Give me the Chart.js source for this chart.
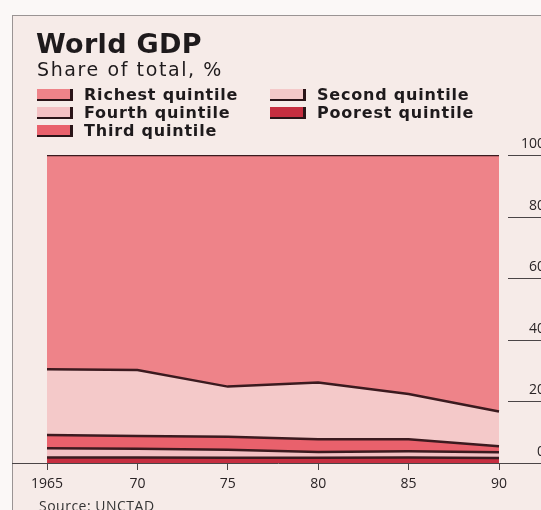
<!DOCTYPE html>
<html>
<head>
<meta charset="utf-8">
<script src="https://cdn.jsdelivr.net/npm/chart.js@4"></script>
<style>
  html, body { margin: 0; padding: 0; width: 541px; height: 510px; overflow: hidden; background: #fbf8f7; }
  #frame { position: absolute; left: 12px; top: 15px; width: 540px; height: 500px;
           border-left: 1px solid #9a9494; border-top: 1px solid #9a9494; background: #f6ebe8; }
  #chartWrap { position: absolute; left: 0; top: 0; width: 545px; height: 510px; }
  .txt { position: absolute; color: #1e1a1c; white-space: nowrap; line-height: 1; }
  #title { left: 36px; top: 30px; font-family: "DejaVu Sans", sans-serif; font-size: 27px; font-weight: 700; letter-spacing: 0.3px; }
  #subtitle { left: 37px; top: 60px; font-family: "DejaVu Sans", sans-serif; font-size: 19px; letter-spacing: 1.6px; }
  #source { left: 39px; top: 499px; font-family: "Open Sans", sans-serif; font-size: 14px; color: #333; letter-spacing: 0.5px; }
  .legItem { position: absolute; font-family: "DejaVu Sans", sans-serif; font-weight: 700; font-size: 16px;
             line-height: 1; color: #1e1a1c; white-space: nowrap; letter-spacing: 0.8px; }
  .legItem span.sw { position: absolute; left: -47px; top: 2px; width: 33px; height: 10px;
                     border-right: 3px solid #2a1418; border-bottom: 2px solid #2a1418; }
</style>
</head>
<body>
<div id="frame"></div>
<div id="chartWrap"><canvas id="gdpChart" width="545" height="510"></canvas></div>
<div class="txt" id="title">World GDP</div>
<div class="txt" id="subtitle">Share of total, %</div>
<div id="legend"></div>
<div class="txt" id="source">Source: UNCTAD</div>
<script>
const years = ['1965', '70', '75', '80', '85', '90'];
const yTicks = [0, 20, 40, 60, 80, 100];

// shares of world GDP by population quintile, bottom of the stack first
const poorest = [1.8, 1.8, 1.7, 1.7, 1.8, 1.6];
const fourth  = [3.0, 2.8, 2.6, 1.9, 2.0, 1.9];
const third   = [4.3, 4.2, 4.2, 4.1, 3.9, 1.9];
const second  = [21.3, 21.4, 16.3, 18.4, 14.7, 11.3];
const richest = [69.6, 69.8, 75.2, 73.9, 77.6, 83.3];

const seriesNames  = ['Poorest quintile', 'Fourth quintile', 'Third quintile', 'Second quintile', 'Richest quintile'];
const seriesValues = [poorest, fourth, third, second, richest];
const seriesColors = ['#c62e40', '#f3c0c3', '#e9616c', '#f4c9c9', '#ee8389'];

// legend: two columns, same order as the printed key
const legendSlots = [
  { name: 'Richest quintile', x: 84,  y: 87 },
  { name: 'Fourth quintile',  x: 84,  y: 105 },
  { name: 'Third quintile',   x: 84,  y: 123 },
  { name: 'Second quintile',  x: 317, y: 87 },
  { name: 'Poorest quintile', x: 317, y: 105 }
];
const legend = document.getElementById('legend');
legendSlots.forEach(s => {
  const el = document.createElement('div');
  el.className = 'legItem';
  el.style.left = s.x + 'px';
  el.style.top = s.y + 'px';
  const sw = document.createElement('span');
  sw.className = 'sw';
  sw.style.background = seriesColors[seriesNames.indexOf(s.name)];
  el.appendChild(sw);
  el.appendChild(document.createTextNode(s.name));
  legend.appendChild(el);
});

// axis baseline across the whole frame plus short tick rules on the right
const axisRules = {
  id: 'axisRules',
  afterDraw(chart) {
    const { ctx, chartArea, scales } = chart;
    ctx.save();
    ctx.strokeStyle = '#4a4446';
    ctx.lineWidth = 1;
    scales.y.ticks.forEach(t => {
      if (t.value === 0) return;
      const y = Math.round(scales.y.getPixelForValue(t.value)) + 0.5;
      ctx.beginPath();
      ctx.moveTo(chartArea.right + 9, y);
      ctx.lineTo(chart.width, y);
      ctx.stroke();
    });
    const y0 = Math.round(chartArea.bottom) + 0.5;
    ctx.beginPath();
    ctx.moveTo(12, y0);
    ctx.lineTo(chart.width, y0);
    ctx.stroke();
    ctx.restore();
  }
};

new Chart(document.getElementById('gdpChart'), {
  type: 'line',
  data: {
    labels: years,
    datasets: seriesValues.map((vals, i) => ({
      label: seriesNames[i],
      data: vals,
      backgroundColor: seriesColors[i],
      borderColor: '#3b1a1f',
      borderWidth: 2.5,
      fill: i === 0 ? 'origin' : '-1',
      pointRadius: 0,
      tension: 0
    }))
  },
  options: {
    responsive: false,
    animation: false,
    layout: { padding: { left: 47, top: 155, right: 0, bottom: 0 } },
    plugins: { legend: { display: false }, tooltip: { enabled: false } },
    scales: {
      x: {
        offset: false,
        grid: { drawOnChartArea: false, drawTicks: true, tickLength: 7, color: '#4a4446' },
        border: { display: false },
        ticks: { padding: 6, color: '#2a2426', font: { family: 'Open Sans', size: 14 }, maxRotation: 0 },
        afterFit: s => { s.height = 47; }
      },
      y: {
        position: 'right',
        stacked: true,
        min: 0, max: 100,
        afterBuildTicks: s => { s.ticks = yTicks.map(v => ({ value: v })); },
        grid: { display: false },
        border: { display: false },
        ticks: { crossAlign: 'far', padding: 13, labelOffset: -11, color: '#2a2426',
                 font: { family: 'Open Sans', size: 14 } },
        afterFit: s => { s.width = 46; }
      }
    }
  },
  plugins: [axisRules]
});
</script>
</body>
</html>
